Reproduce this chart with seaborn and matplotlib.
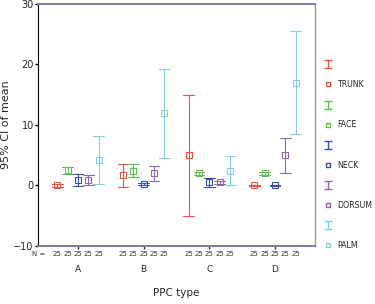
import matplotlib
matplotlib.use('Agg')
import matplotlib.pyplot as plt
import seaborn as sns
import pandas as pd
import numpy as np
from matplotlib.path import Path
from matplotlib.lines import Line2D
from matplotlib import transforms

groups = ['A', 'B', 'C', 'D']
sites = ['TRUNK', 'FACE', 'NECK', 'DORSUM', 'PALM']
colors = ['#e8553e', '#5fbf4f', '#3c4fa8', '#8c6aa8', '#80d0e0']
n_per_cell = 25

# one row per PPC type, one column per site
means = [[0.0, 2.5, 0.9, 0.9, 4.2],
         [1.7, 2.4, 0.2, 2.0, 12.0],
         [5.0, 2.0, 0.5, 0.5, 2.4],
         [0.0, 2.0, 0.0, 5.0, 17.0]]
lower = [[-0.3, 1.9, -0.1, 0.0, 0.3],
         [-0.2, 1.4, 0.0, 0.7, 4.5],
         [-5.0, 1.8, -0.3, 0.2, 0.0],
         [-0.1, 1.8, -0.1, 2.0, 8.5]]
upper = [[0.3, 3.0, 1.9, 1.8, 8.1],
         [3.5, 3.5, 0.4, 3.2, 19.2],
         [15.0, 2.2, 1.3, 0.8, 4.8],
         [0.1, 2.2, 0.1, 7.9, 25.5]]

rows = []
for gi, g in enumerate(groups):
    for si, s in enumerate(sites):
        for v in (lower[gi][si], means[gi][si], upper[gi][si]):
            rows.append({'ppc': g, 'site': s, 'value': v})
df = pd.DataFrame(rows)

sns.set_style('ticks')
plt.rcParams['font.family'] = ['DejaVu Sans']

fig = plt.figure(figsize=(3.75, 3.04), dpi=100)
ax = fig.add_axes([0.101, 0.191, 0.739, 0.796])

dodge = 0.63
sns.pointplot(data=df, x='ppc', y='value', hue='site', order=groups, hue_order=sites,
              palette=colors, estimator='median', errorbar=lambda v: (v.min(), v.max()),
              dodge=dodge, capsize=0.16, markers='s', linestyle='none', markersize=4,
              err_kws={'linewidth': 0.8}, legend=False, ax=ax)
for ln in ax.lines:
    ln.set_markerfacecolor('none')
    ln.set_markeredgewidth(0.8)

ax.set_xlim(-0.61, 3.61)
ax.set_ylim(-10, 30)
ax.set_yticks([-10, 0, 10, 20, 30])
ax.tick_params(axis='y', labelsize=7, length=2, width=1, pad=1, color='black')
ax.tick_params(axis='x', labelsize=6.5, length=2, width=1, pad=12, color='#333333')
ax.set_ylabel('95% CI of mean', fontsize=8, labelpad=2)
ax.set_xlabel('PPC type', fontsize=7.5, labelpad=10)

for side in ['top', 'bottom']:
    ax.spines[side].set_color('#7a7aa8')
    ax.spines[side].set_linewidth(1.4)
ax.spines['left'].set_color('black')
ax.spines['right'].set_color('#999999')
ax.spines['right'].set_linewidth(1.0)

# N counts under each point
trans = transforms.blended_transform_factory(ax.transData, ax.transAxes)
offsets = np.linspace(-dodge / 2, dodge / 2, len(sites))
for gi in range(len(groups)):
    for off in offsets:
        ax.text(gi + off, -0.035, str(n_per_cell), transform=trans, fontsize=5,
                ha='center', va='center', color='#333333')
ax.text(-0.02, -0.035, 'N =', transform=ax.transAxes, fontsize=5, ha='left',
        va='center', color='#333333')

# legend: error bar glyph above a square for each site
ibeam = Path([(-0.5, 0.5), (0.5, 0.5), (0, 0.5), (0, -0.5), (-0.5, -0.5), (0.5, -0.5)],
             [Path.MOVETO, Path.LINETO, Path.MOVETO, Path.LINETO, Path.MOVETO, Path.LINETO])
handles, labels = [], []
for s, c in zip(sites, colors):
    handles.append(Line2D([], [], linestyle='none', marker=ibeam, markersize=5.5,
                          markeredgecolor=c, markeredgewidth=1.0))
    labels.append('')
    handles.append(Line2D([], [], linestyle='none', marker='s', markersize=3.5,
                          markerfacecolor='none', markeredgecolor=c, markeredgewidth=1.0))
    labels.append(s)
fig.legend(handles, labels, loc='center left', bbox_to_anchor=(0.857, 0.49),
           frameon=False, fontsize=5.7, handlelength=0.8, handletextpad=0.8,
           labelspacing=1.4, borderaxespad=0)

fig.savefig('out.png', dpi=100)
